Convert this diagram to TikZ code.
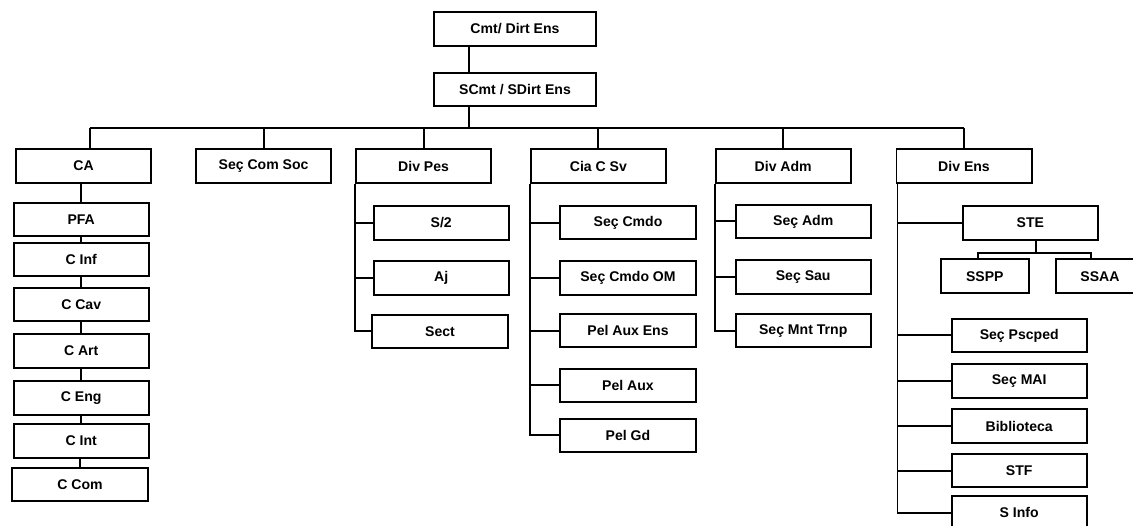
\documentclass[tikz,border=0pt]{standalone}
\usepackage{fontspec}
\setmainfont{Liberation Sans}
\usetikzlibrary{calc}

\begin{document}
\begin{tikzpicture}[
    box/.style={draw,rectangle,line width=1.3pt,minimum width=3.38cm,minimum height=0.84cm,
                inner sep=0pt,font=\fontsize{10}{12}\selectfont\bfseries},
    wide/.style={box,minimum width=4.05cm},
    small/.style={box,minimum width=2.2cm},
    link/.style={line width=1.3pt}
]
\useasboundingbox (0,0) rectangle (28.325,13.125);

% Top
\node[wide] (cmt) at (12.875,12.4) {Cmt/ Dirt Ens};
\node[wide] (scmt) at (12.875,10.89) {SCmt / SDirt Ens};
\coordinate (t) at (11.725,9.925);
\draw[link] (cmt.south -| t) -- (scmt.north -| t);
\draw[link] (scmt.south -| t) -- (t);

% First level
\node[box] (ca) at (2.09,8.975) {CA};
\node[box] (com) at (6.59,8.975) {Seç Com Soc};
\node[box] (pes) at (10.59,8.975) {Div Pes};
\node[box] (csv) at (14.96,8.975) {Cia C Sv};
\node[box] (adm) at (19.58,8.975) {Div Adm};
\node[box] (ens) at (24.1,8.975) {Div Ens};
\draw[link] ([xshift=0.15cm]ca.north |- t) -- (ens.north |- t);
\draw[link] ([xshift=0.15cm]ca.north |- t) -- ([xshift=0.15cm]ca.north);
\foreach \n in {com,pes,csv,adm,ens}
    \draw[link] (\n.north |- t) -- (\n.north);

% CA
\node[box] (pfa) at (2.03,7.64) {PFA};
\node[box] (cinf) at (2.03,6.64) {C Inf};
\node[box] (ccav) at (2.03,5.51) {C Cav};
\node[box] (cart) at (2.03,4.35) {C Art};
\node[box] (ceng) at (2.03,3.175) {C Eng};
\node[box] (cint) at (2.03,2.1) {C Int};
\node[box] (ccom) at (2.0,1.01) {C Com};
\foreach \a/\b in {ca/pfa,pfa/cinf,cinf/ccav,ccav/cart,cart/ceng,ceng/cint,cint/ccom}
    \draw[link] (\b.north) -- (\b.north |- \a.south);

% Div Pes
\node[box] (s2) at (11.03,7.55) {S/2};
\node[box] (aj) at (11.03,6.175) {Aj};
\node[box] (sect) at (11.0,4.84) {Sect};
\foreach \n in {s2,aj,sect}
    \draw[link] (pes.south west) |- (\n.west);

% Cia C Sv
\node[box] (cmdo) at (15.7,7.56) {Seç Cmdo};
\node[box] (cmdoom) at (15.7,6.175) {Seç Cmdo OM};
\node[box] (auxens) at (15.7,4.86) {Pel Aux Ens};
\node[box] (aux) at (15.7,3.49) {Pel Aux};
\node[box] (gd) at (15.7,2.24) {Pel Gd};
\foreach \n in {cmdo,cmdoom,auxens,aux,gd}
    \draw[link] (csv.south west) |- (\n.west);

% Div Adm
\node[box] (secadm) at (20.08,7.59) {Seç Adm};
\node[box] (sau) at (20.08,6.2) {Seç Sau};
\node[box] (trnp) at (20.08,4.86) {Seç Mnt Trnp};
\foreach \n in {secadm,sau,trnp}
    \draw[link] (adm.south west) |- (\n.west);

% Div Ens
\node[box] (ste) at (25.76,7.55) {STE};
\node[small] (sspp) at (24.62,6.22) {SSPP};
\node[small] (ssaa) at (27.5,6.22) {SSAA};
\coordinate (sb) at (25.9,6.8);
\draw[link] (ste.south -| sb) -- (sb);
\draw[link] ([xshift=-0.18cm]sspp.north) |- (sb) -| ([xshift=-0.22cm]ssaa.north);
\node[box] (pscped) at (25.48,4.74) {Seç Pscped};
\node[box] (mai) at (25.48,3.6) {Seç MAI};
\node[box] (bib) at (25.48,2.475) {Biblioteca};
\node[box] (stf) at (25.48,1.36) {STF};
\node[box] (info) at (25.48,0.31) {S Info};
\foreach \n in {ste,pscped,mai,bib,stf,info}
    \draw[link] ([xshift=0.05cm]ens.south west) |- (\n.west);
\end{tikzpicture}
\end{document}
